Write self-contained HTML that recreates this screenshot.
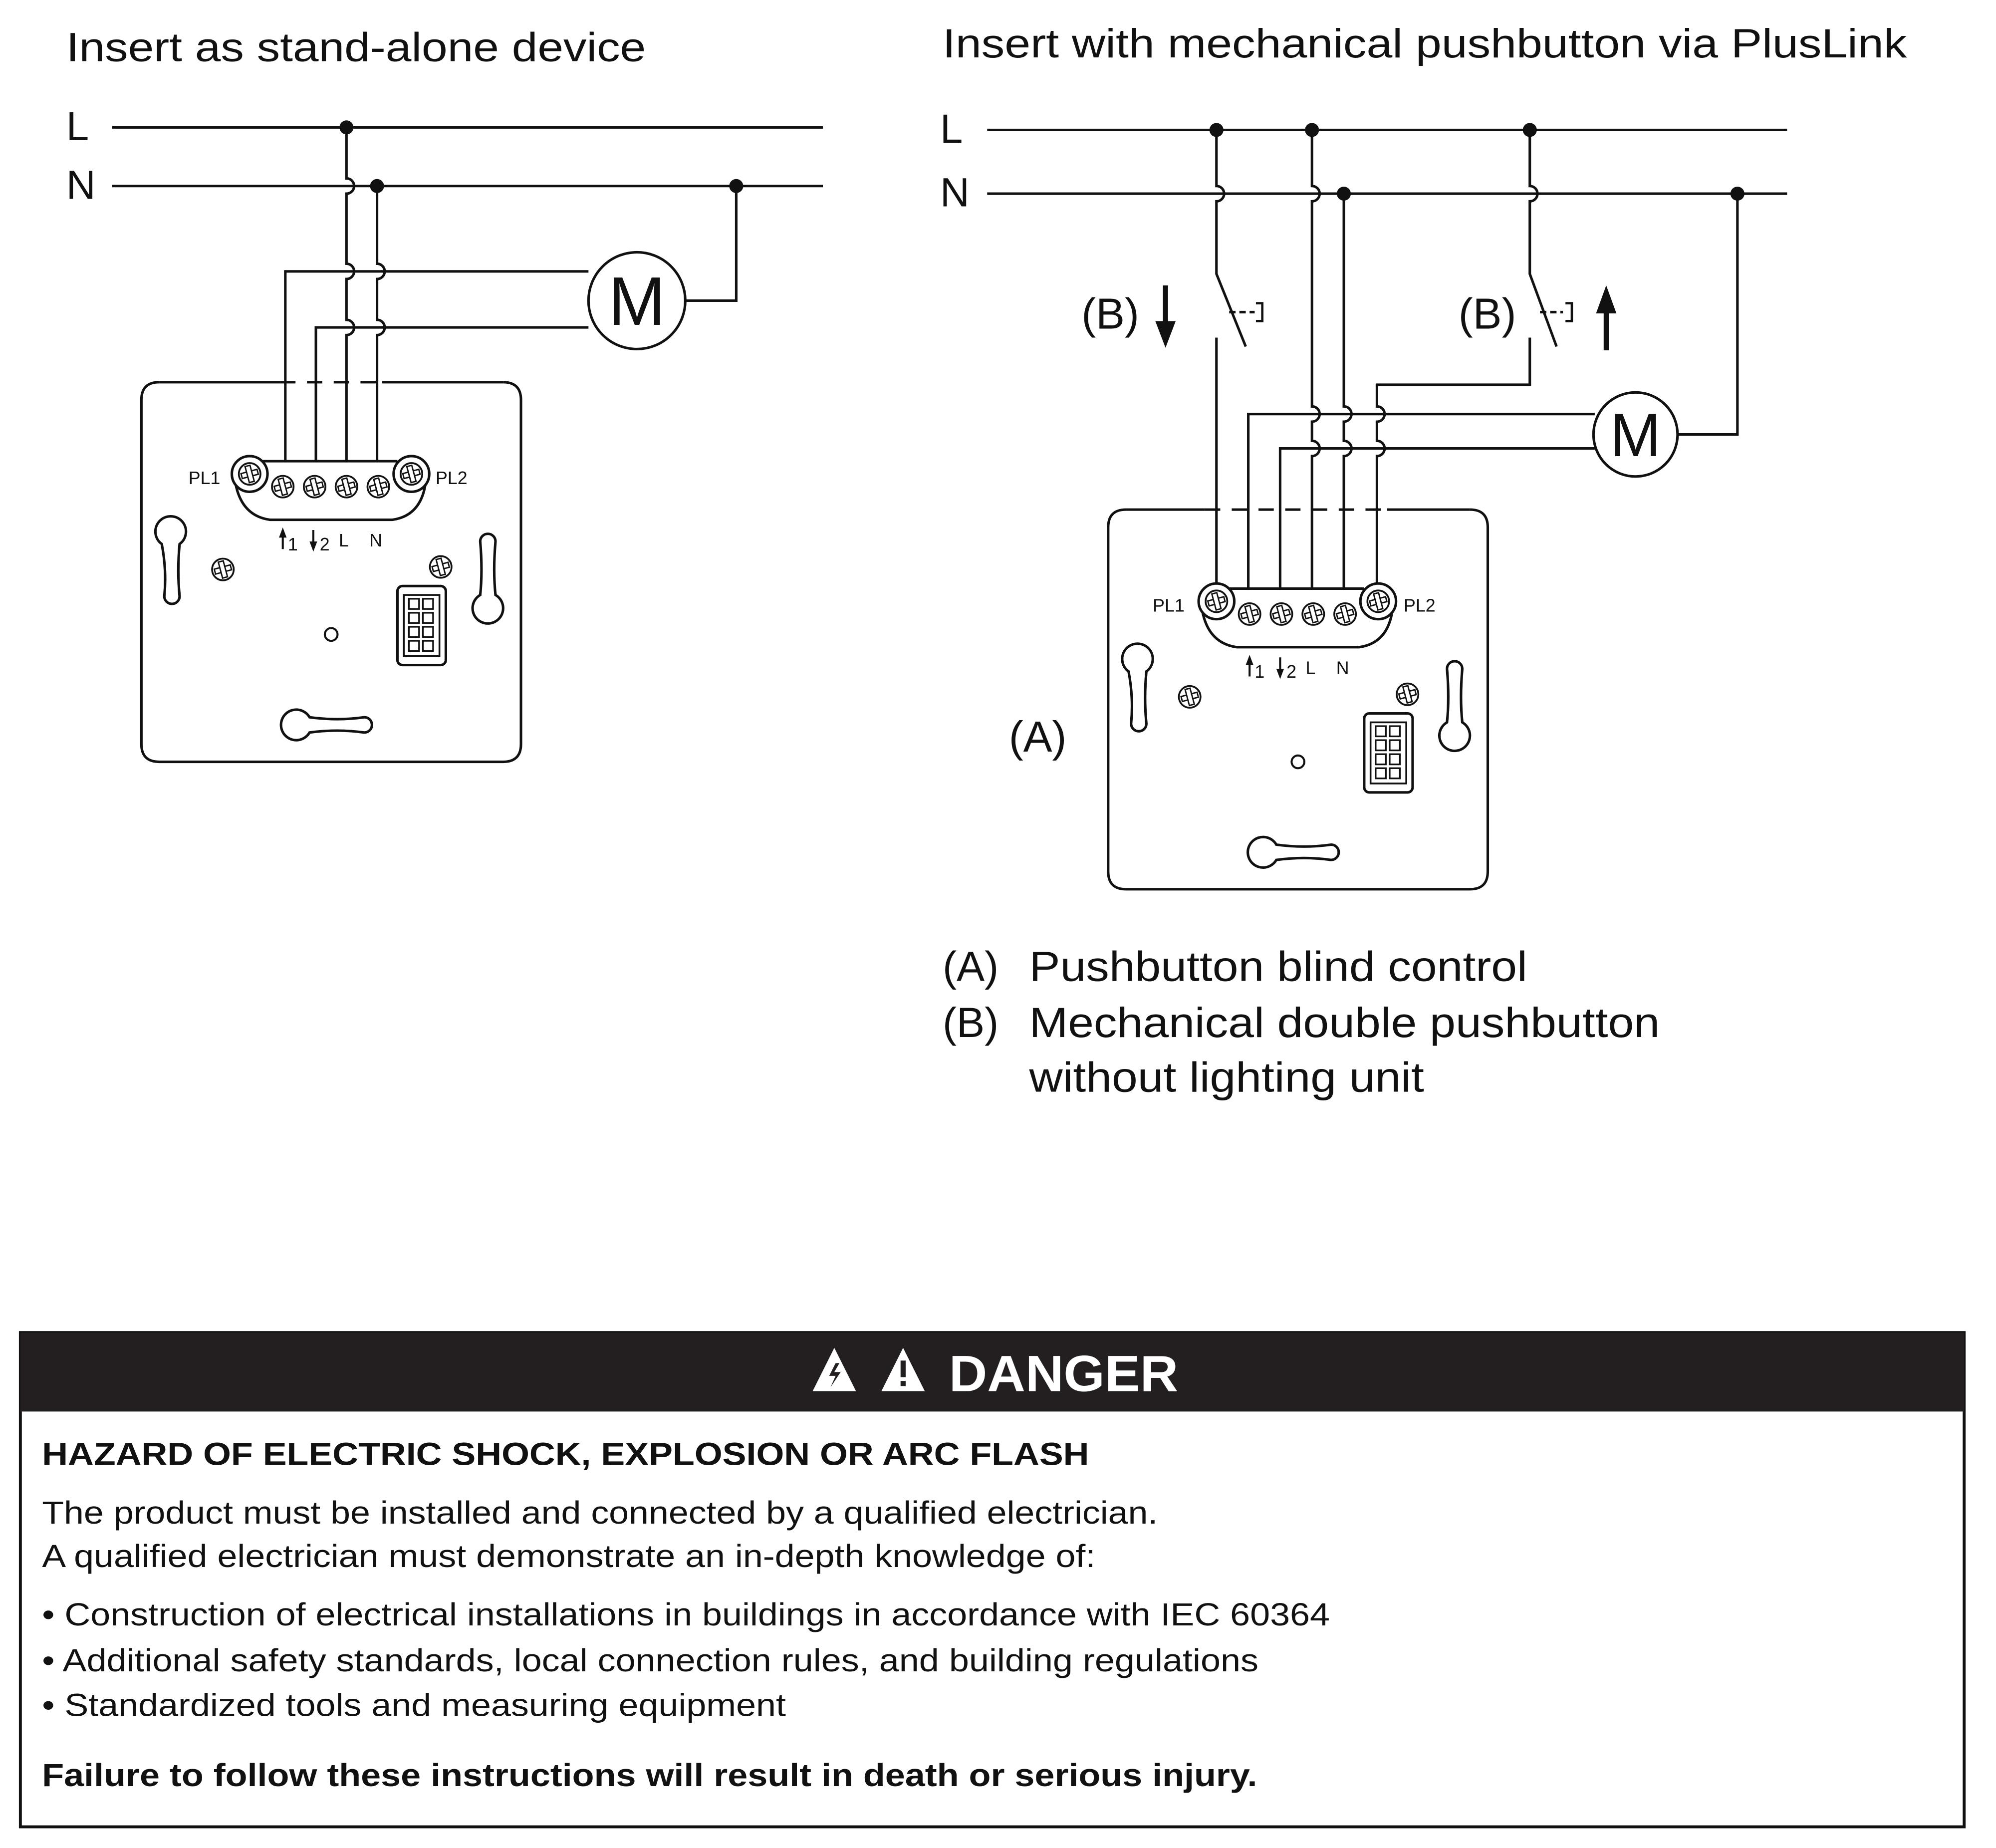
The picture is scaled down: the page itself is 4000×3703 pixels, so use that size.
<!DOCTYPE html>
<html><head><meta charset="utf-8"><style>
html,body{margin:0;padding:0;background:#fff}
svg{display:block}
text{font-family:"Liberation Sans",sans-serif;fill:#111}
</style></head><body>
<svg width="4000" height="3703" viewBox="0 0 1567 1450.6" xmlns="http://www.w3.org/2000/svg">
<defs>
<g id="sc">
 <circle r="8.5" fill="#fff" stroke="#111" stroke-width="1.4"/>
 <g transform="rotate(-15)" fill="#fff" stroke="#111" stroke-width="1.1">
  <rect x="-6.5" y="-2" width="13" height="4"/>
  <rect x="-2" y="-6.5" width="4" height="13"/>
 </g>
</g>
<g id="dev" fill="none" stroke="#111" stroke-width="2">
 <path d="M125 300 Q111 300 111 314 V584 Q111 598 125 598 H395 Q409 598 409 584 V314 Q409 300 395 300"/>
 <path d="M206 362 H312 M185 380 Q190 405 212 408 H308 Q330 405 334 380" fill="#fff"/>
 <circle cx="196" cy="372" r="14" fill="#fff"/>
 <circle cx="323" cy="372" r="14" fill="#fff"/>
 <use href="#sc" x="196" y="372"/><use href="#sc" x="323" y="372"/>
 <use href="#sc" x="222" y="382"/><use href="#sc" x="247" y="382"/>
 <use href="#sc" x="272" y="382"/><use href="#sc" x="297" y="382"/>
 <use href="#sc" x="175" y="447"/><use href="#sc" x="346" y="445"/>
 <path d="M127 427 A12 12 0 1 1 141 427 Q139 448 141 468 A6 6 0 0 1 129 468 Q131 448 127 427Z"/>
 <path d="M377 425 A6 6 0 0 1 389 425 Q387 448 389 467 A12 12 0 1 1 377 467 Q379 448 377 425Z"/>
 <path d="M243 563 Q265 566 286 563 A6 6 0 0 1 286 575 Q265 572 243 575 A12 12 0 1 1 243 563Z"/>
 <circle cx="260" cy="498" r="5" stroke-width="1.6"/>
 <rect x="312" y="460" width="38" height="62" rx="4"/>
 <rect x="317" y="467" width="28" height="48" stroke-width="1.4"/>
 <g stroke-width="1.3">
  <rect x="321" y="470" width="8" height="8"/><rect x="332" y="470" width="8" height="8"/>
  <rect x="321" y="481" width="8" height="8"/><rect x="332" y="481" width="8" height="8"/>
  <rect x="321" y="492" width="8" height="8"/><rect x="332" y="492" width="8" height="8"/>
  <rect x="321" y="503" width="8" height="8"/><rect x="332" y="503" width="8" height="8"/>
 </g>
 <path d="M222 431 V420 M246 416 V427" stroke-width="1.6"/>
 <path d="M222 414 L219 422 H225Z M246 433 L243 425 H249Z" fill="#111" stroke="none"/>
</g>
</defs>

<text x="52" y="48" font-size="32" textLength="455" lengthAdjust="spacingAndGlyphs">Insert as stand-alone device</text>
<text x="52" y="110" font-size="32">L</text>
<text x="52" y="156" font-size="32">N</text>
<use href="#dev"/>
<path d="M125 300 H220 M300 300 H395" stroke="#111" stroke-width="2" fill="none"/>
<path d="M220 300 H300" stroke="#111" stroke-width="2" stroke-dasharray="12 9" fill="none"/>
<text x="148" y="380" font-size="14">PL1</text>
<text x="342" y="380" font-size="14">PL2</text>
<text x="226" y="432" font-size="14">1</text>
<text x="251" y="432" font-size="14">2</text>
<text x="266" y="429" font-size="14">L</text>
<text x="290" y="429" font-size="14">N</text>
<g fill="none" stroke="#111" stroke-width="2">
 <path d="M88 100 H646 M88 146 H646"/>
 <path d="M272 100 V140 a6 6 0 0 1 0 12 V207 a6 6 0 0 1 0 12 V251 a6 6 0 0 1 0 12 V362"/>
 <path d="M296 146 V207 a6 6 0 0 1 0 12 V251 a6 6 0 0 1 0 12 V362"/>
 <path d="M224 362 V213 H462 M248 362 V257 H462"/>
 <circle cx="500" cy="236" r="38" fill="#fff"/>
 <path d="M538 236 H578 V146"/>
</g>
<text x="500" y="255" font-size="54" text-anchor="middle">M</text>
<g fill="#111"><circle cx="272" cy="100" r="5.5"/><circle cx="296" cy="146" r="5.5"/><circle cx="578" cy="146" r="5.5"/></g>

<text x="740" y="45" font-size="32" textLength="757" lengthAdjust="spacingAndGlyphs">Insert with mechanical pushbutton via PlusLink</text>
<text x="738" y="112" font-size="32">L</text>
<text x="738" y="162" font-size="32">N</text>
<g transform="translate(759,100)">
 <use href="#dev"/>
 <path d="M125 300 H187 M330 300 H395" stroke="#111" stroke-width="2" fill="none"/>
 <path d="M187 300 H330" stroke="#111" stroke-width="2" stroke-dasharray="12 9" fill="none"/>
 <text x="146" y="380" font-size="14">PL1</text>
 <text x="343" y="380" font-size="14">PL2</text>
 <text x="226" y="432" font-size="14">1</text>
 <text x="251" y="432" font-size="14">2</text>
 <text x="266" y="429" font-size="14">L</text>
 <text x="290" y="429" font-size="14">N</text>
</g>
<g fill="none" stroke="#111" stroke-width="2">
 <path d="M775 102 H1403 M775 152 H1403"/>
 <path d="M955 102 V146 a6 6 0 0 1 0 12 V215 L978 272 M955 265 V458"/>
 <path d="M1030 102 V146 a6 6 0 0 1 0 12 V319 a6 6 0 0 1 0 12 V346 a6 6 0 0 1 0 12 V462"/>
 <path d="M1055 152 V319 a6 6 0 0 1 0 12 V346 a6 6 0 0 1 0 12 V462"/>
 <path d="M1201 102 V146 a6 6 0 0 1 0 12 V215 L1222 272 M1201 265 V302 H1081 V319 a6 6 0 0 1 0 12 V346 a6 6 0 0 1 0 12 V458"/>
 <path d="M980 462 V325 H1252 M1005 462 V352 H1252"/>
 <path d="M965 245 H985 M1209 245 H1227" stroke-dasharray="5 3"/>
 <path d="M986 238 H991 V252 H986 M1229 238 H1234 V252 H1229" stroke-width="1.8"/>
 <circle cx="1284" cy="341" r="33" fill="#fff"/>
 <path d="M1317 341 H1364 V152"/>
</g>
<text x="1284" y="358" font-size="48" text-anchor="middle">M</text>
<g fill="#111">
 <circle cx="955" cy="102" r="5.5"/><circle cx="1030" cy="102" r="5.5"/><circle cx="1201" cy="102" r="5.5"/>
 <circle cx="1055" cy="152" r="5.5"/><circle cx="1364" cy="152" r="5.5"/>
 <path d="M913 224 V252 H907 L915 273 L923 252 H917 V224Z"/>
 <path d="M1259 275 V246 H1253 L1261 224 L1269 246 H1263 V275Z"/>
</g>
<text x="849" y="258" font-size="34">(B)</text>
<text x="1145" y="258" font-size="34">(B)</text>
<text x="792" y="590" font-size="34">(A)</text>
<text x="740" y="770" font-size="33">(A)</text>
<text x="808" y="770" font-size="33" textLength="391" lengthAdjust="spacingAndGlyphs">Pushbutton blind control</text>
<text x="740" y="814" font-size="33">(B)</text>
<text x="808" y="814" font-size="33" textLength="495" lengthAdjust="spacingAndGlyphs">Mechanical double pushbutton</text>
<text x="808" y="857" font-size="33" textLength="310" lengthAdjust="spacingAndGlyphs">without lighting unit</text>

<rect x="16" y="1046" width="1526" height="388" fill="#fff" stroke="#111" stroke-width="2.3"/>
<rect x="16" y="1046" width="1526" height="62" fill="#231f20"/>
<path d="M655 1058 L638 1092 H672Z M709 1058 L692 1092 H726Z" fill="#fff"/>
<path d="M656 1070 L651 1080 H656 L652 1089 L660 1077 H655 L659 1070Z" fill="#231f20"/>
<rect x="707" y="1068" width="4" height="13" fill="#231f20"/><rect x="707" y="1084" width="4" height="4" fill="#231f20"/>
<text x="745" y="1092" font-size="40" font-weight="bold" style="fill:#fff" textLength="180" lengthAdjust="spacingAndGlyphs">DANGER</text>
<text x="33" y="1150" font-size="25" font-weight="bold" textLength="822" lengthAdjust="spacingAndGlyphs">HAZARD OF ELECTRIC SHOCK, EXPLOSION OR ARC FLASH</text>
<text x="33" y="1196" font-size="25" textLength="876" lengthAdjust="spacingAndGlyphs">The product must be installed and connected by a qualified electrician.</text>
<text x="33" y="1230" font-size="25" textLength="827" lengthAdjust="spacingAndGlyphs">A qualified electrician must demonstrate an in-depth knowledge of:</text>
<text x="33" y="1276" font-size="25" textLength="1011" lengthAdjust="spacingAndGlyphs">• Construction of electrical installations in buildings in accordance with IEC 60364</text>
<text x="33" y="1312" font-size="25" textLength="955" lengthAdjust="spacingAndGlyphs">• Additional safety standards, local connection rules, and building regulations</text>
<text x="33" y="1347" font-size="25" textLength="584" lengthAdjust="spacingAndGlyphs">• Standardized tools and measuring equipment</text>
<text x="33" y="1402" font-size="25" font-weight="bold" textLength="954" lengthAdjust="spacingAndGlyphs">Failure to follow these instructions will result in death or serious injury.</text>
</svg>
</body></html>
